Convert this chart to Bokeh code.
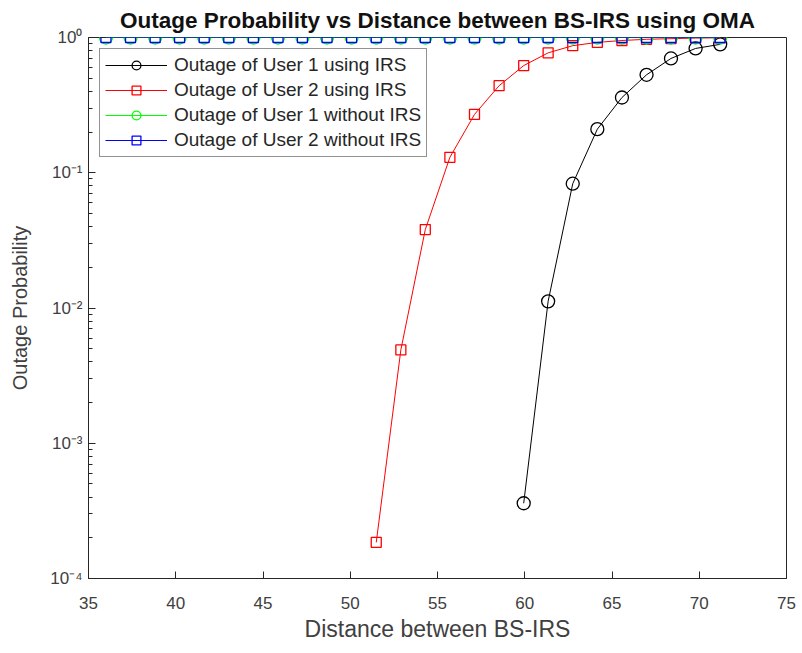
from bokeh.plotting import figure
from bokeh.models import CustomJSTickFormatter, FixedTicker, Range1d
from bokeh.embed import file_html
from bokeh.resources import INLINE

# ---- data ----
distance = [36.00, 37.41, 38.82, 40.22, 41.63, 43.04, 44.45, 45.86, 47.26, 48.67,
            50.08, 51.49, 52.90, 54.30, 55.71, 57.12, 58.53, 59.94, 61.34, 62.75,
            64.16, 65.57, 66.98, 68.38, 69.79, 71.20]

u1_irs_x = [59.94, 61.34, 62.75, 64.16, 65.57, 66.98, 68.38, 69.79, 71.20]
u1_irs_y = [3.6e-4, 0.0112, 0.083, 0.21, 0.36, 0.53, 0.70, 0.83, 0.89]

u2_irs_x = [51.49, 52.90, 54.30, 55.71, 57.12, 58.53, 59.94, 61.34, 62.75,
            64.16, 65.57, 66.98, 68.38, 69.79, 71.20]
u2_irs_y = [1.85e-4, 4.9e-3, 0.038, 0.13, 0.27, 0.44, 0.62, 0.77, 0.87,
            0.92, 0.95, 0.97, 0.98, 0.99, 0.995]

u1_no_irs = [1.0] * 26
u2_no_irs = [1.0] * 26

x_ticks = [35, 40, 45, 50, 55, 60, 65, 70, 75]
y_ticks = [1e-4, 1e-3, 1e-2, 1e-1, 1]
y_minor = [m * d for d in (1e-4, 1e-3, 1e-2, 1e-1) for m in range(2, 10)]

TEXT = "#404040"
FONT = "Liberation Sans"

p = figure(width=802, height=653, output_backend="svg", toolbar_location=None,
           y_axis_type="log", x_range=Range1d(35, 75), y_range=Range1d(1e-4, 1),
           min_border_left=88, min_border_right=16, min_border_top=37, min_border_bottom=75,
           title="Outage Probability vs Distance between BS-IRS using OMA")

p.title.text_font = FONT
p.title.text_font_size = "22.5px"
p.title.text_font_style = "bold"
p.title.align = "center"
p.title.text_color = "#111111"
p.title.standoff = 10

p.background_fill_color = "white"
p.outline_line_color = "#262626"
p.outline_line_width = 1
p.xgrid.visible = False
p.ygrid.visible = False

for ax in (p.xaxis[0], p.yaxis[0]):
    ax.axis_line_color = "#262626"
    ax.major_tick_in = 7
    ax.major_tick_out = 0
    ax.minor_tick_in = 4
    ax.minor_tick_out = 0
    ax.major_tick_line_color = "#262626"
    ax.minor_tick_line_color = "#262626"
    ax.major_label_text_font = FONT
    ax.major_label_text_font_size = "17px"
    ax.major_label_text_color = TEXT
    ax.axis_label_text_font = FONT
    ax.axis_label_text_font_style = "normal"
    ax.axis_label_text_color = TEXT

p.xaxis.ticker = FixedTicker(ticks=x_ticks)
p.xaxis.minor_tick_line_color = None
p.xaxis.major_label_standoff = 18
p.xaxis.axis_label = "Distance between BS-IRS"
p.xaxis.axis_label_text_font_size = "23px"
p.xaxis.axis_label_standoff = 4

p.yaxis.axis_label = "Outage Probability"
p.yaxis.axis_label_text_font_size = "20px"
p.yaxis.axis_label_standoff = 16
p.yaxis.major_label_standoff = 6
p.yaxis.ticker = FixedTicker(ticks=y_ticks, minor_ticks=y_minor)
p.yaxis.formatter = CustomJSTickFormatter(code="""
const e = Math.round(Math.log10(tick));
const sup = {'-':'\u207b','0':'\u2070','1':'\u00b9','2':'\u00b2','3':'\u00b3','4':'\u2074','5':'\u2075','6':'\u2076','7':'\u2077','8':'\u2078','9':'\u2079'};
return '10' + String(e).split('').map(c => sup[c]).join('');
""")

# series
p.line(u1_irs_x, u1_irs_y, color="#000000", line_width=1, legend_label="Outage of User 1 using IRS")
p.scatter(u1_irs_x, u1_irs_y, marker="circle", size=13, line_color="#000000", fill_color=None,
          line_width=1.3, legend_label="Outage of User 1 using IRS")

p.line(u2_irs_x, u2_irs_y, color="#ff0000", line_width=1, legend_label="Outage of User 2 using IRS")
p.scatter(u2_irs_x, u2_irs_y, marker="square", size=10, line_color="#ff0000", fill_color=None,
          line_width=1.3, legend_label="Outage of User 2 using IRS")

p.line(distance, u1_no_irs, color="#00ff00", line_width=1, legend_label="Outage of User 1 without IRS")
p.scatter(distance, u1_no_irs, marker="circle", size=13, line_color="#00ff00", fill_color=None,
          line_width=1.3, legend_label="Outage of User 1 without IRS")

p.line(distance, u2_no_irs, color="#0000ff", line_width=1, legend_label="Outage of User 2 without IRS")
p.scatter(distance, u2_no_irs, marker="square", size=10, line_color="#0000ff", fill_color=None,
          line_width=1.3, legend_label="Outage of User 2 without IRS")

lg = p.legend[0]
lg.location = "top_left"
lg.margin = 11
lg.padding = 5
lg.spacing = 3
lg.glyph_width = 62
lg.glyph_height = 22
lg.label_text_font = FONT
lg.label_text_font_size = "19px"
lg.label_text_color = "#262626"
lg.label_standoff = 7
lg.label_height = 22
lg.border_line_color = "#262626"
lg.border_line_width = 1
lg.background_fill_alpha = 1.0

open("out.html", "w").write(file_html(p, INLINE))
